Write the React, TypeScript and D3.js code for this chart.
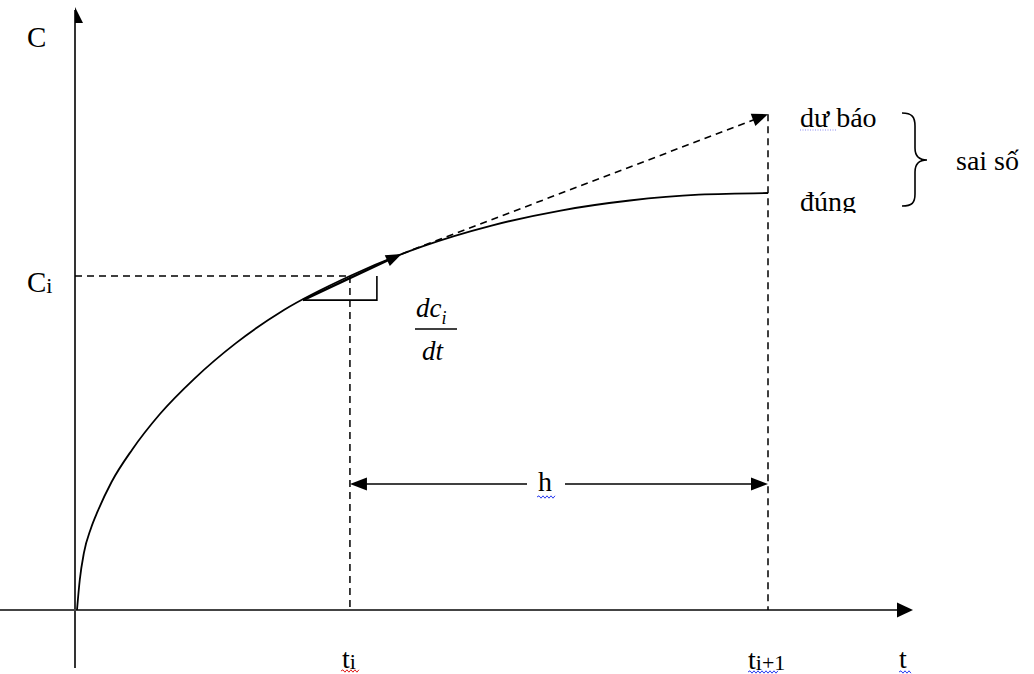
import React from "react";
import * as d3 from "d3";

// Curve C(t) (abstract units)
const curveT = [0, 0.04, 0.1, 0.2, 0.3, 0.5, 0.8, 1.2, 1.7, 2.3, 3.0, 3.95, 5.0, 6.0, 7.0, 8.0, 9.0, 10];
const curveC = [0, 0.72, 1.37, 1.95, 2.37, 3.07, 3.85, 4.7, 5.55, 6.4, 7.2, 8.01, 8.72, 9.22, 9.58, 9.82, 9.96, 10];

const tI = 3.95;        // t_i
const tNext = 10;       // t_{i+1}
const cI = 8.01;        // C_i
const tangentStart = [3.27, 7.43];
const tangentTip = [4.7, 8.54];
const predicted = 11.89; // forecast value at t_{i+1}
const markerT = 4.34;

const labels = {
  yAxis: "C",
  ci: "C",
  ciSub: "i",
  forecast: "dư báo",
  correct: "đúng",
  error: "sai số",
  h: "h",
  t: "t",
};

const W = 1034;
const H = 674;
const FONT = "'Liberation Serif', 'Times New Roman', serif";

function arrowHead(tipX: number, tipY: number, fromX: number, fromY: number, len: number, half: number) {
  const a = Math.atan2(tipY - fromY, tipX - fromX);
  const bx = tipX - len * Math.cos(a);
  const by = tipY - len * Math.sin(a);
  const px = -Math.sin(a) * half;
  const py = Math.cos(a) * half;
  return `M${tipX},${tipY}L${bx + px},${by + py}L${bx - px},${by - py}Z`;
}

function wavy(x1: number, x2: number, y: number) {
  let d = `M${x1},${y}`;
  let up = true;
  for (let x = x1 + 2; x <= x2; x += 2) {
    d += `L${x},${y + (up ? -1.2 : 1.2)}`;
    up = !up;
  }
  return d;
}

export default function App() {
  const x = d3.scaleLinear().domain([0, 10]).range([77, 768]);
  const y = d3.scaleLinear().domain([0, 10]).range([610, 193]);

  const pts: [number, number][] = curveT.map((t, i) => [t, curveC[i]]);
  const line = d3
    .line<[number, number]>()
    .x((d) => x(d[0]))
    .y((d) => y(d[1]))
    .curve(d3.curveMonotoneX);

  const axisX = x(0) - 2;
  const axisY = y(0);
  const dash = "7,5";

  const xi = x(tI);
  const xn = x(tNext);
  const yi = y(cI);
  const yp = y(predicted);
  const hy = 484;

  const tsx = x(tangentStart[0]);
  const tsy = y(tangentStart[1]);
  const ttx = x(tangentTip[0]);
  const tty = y(tangentTip[1]);
  const mx = x(markerT);

  return (
    <svg
      width={W}
      height={H}
      viewBox={`0 0 ${W} ${H}`}
      style={{ position: "absolute", left: 0, top: 0, background: "#fff" }}
    >
      <defs>
        <clipPath id="clipDung">
          <rect x={780} y={180} width={120} height={33} />
        </clipPath>
      </defs>

      {/* axes */}
      <line x1={axisX} y1={668} x2={axisX} y2={10} stroke="#000" strokeWidth={1.6} />
      <path d={`M${axisX},7L${axisX + 8},23L${axisX},23Z`} fill="#000" />
      <line x1={0} y1={axisY} x2={900} y2={axisY} stroke="#444" strokeWidth={2} />
      <path d={arrowHead(913, axisY, 0, axisY, 16, 7.5)} fill="#000" />

      {/* dashed guides */}
      <line x1={axisX} y1={yi} x2={xi} y2={yi} stroke="#000" strokeWidth={1.5} strokeDasharray={dash} />
      <line x1={xi} y1={yi} x2={xi} y2={axisY} stroke="#000" strokeWidth={1.5} strokeDasharray={dash} />
      <line x1={xn} y1={yp} x2={xn} y2={axisY} stroke="#000" strokeWidth={1.5} strokeDasharray={dash} />

      {/* curve */}
      <path d={line(pts) || ""} fill="none" stroke="#000" strokeWidth={1.8} />

      {/* tangent */}
      <line x1={tsx} y1={tsy} x2={ttx - 10} y2={tty + 4.6} stroke="#000" strokeWidth={2.4} />
      <path d={arrowHead(ttx, tty, tsx, tsy, 16, 6)} fill="#000" />
      <line x1={ttx} y1={tty} x2={xn - 10} y2={yp + 4} stroke="#000" strokeWidth={1.6} strokeDasharray={dash} />
      <path d={arrowHead(xn, yp, ttx, tty, 16, 6.5)} fill="#000" />

      {/* right-angle marker */}
      <path d={`M${tsx},${tsy}L${mx},${tsy}L${mx},${yi}`} fill="none" stroke="#000" strokeWidth={1.6} />

      {/* h arrow */}
      <line x1={xi + 10} y1={hy} x2={527} y2={hy} stroke="#000" strokeWidth={1.6} />
      <line x1={565} y1={hy} x2={xn - 10} y2={hy} stroke="#000" strokeWidth={1.6} />
      <path d={arrowHead(xi, hy, xn, hy, 17, 6.5)} fill="#000" />
      <path d={arrowHead(xn, hy, xi, hy, 17, 6.5)} fill="#000" />
      <text x={545} y={491} fontFamily={FONT} fontSize={28} textAnchor="middle">{labels.h}</text>
      <path d={wavy(537, 555, 497)} stroke="#2a3cf0" strokeWidth={1} fill="none" />

      {/* axis labels */}
      <text x={27} y={47} fontFamily={FONT} fontSize={29}>{labels.yAxis}</text>
      <text x={27} y={292} fontFamily={FONT} fontSize={29}>
        {labels.ci}
        <tspan fontSize={22} dy={1}>{labels.ciSub}</tspan>
      </text>

      {/* derivative */}
      <text x={416} y={317} fontFamily={FONT} fontSize={27} fontStyle="italic">
        dc<tspan fontSize={18} dy={7}>i</tspan>
      </text>
      <line x1={415} y1={329} x2={457} y2={329} stroke="#000" strokeWidth={1.5} />
      <text x={422} y={360} fontFamily={FONT} fontSize={27} fontStyle="italic">dt</text>

      {/* right labels */}
      <text x={800} y={127} fontFamily={FONT} fontSize={28}>{labels.forecast}</text>
      <path d="M800,130 L836,130" stroke="#8a8af0" strokeWidth={1} strokeDasharray="1,1.5" />
      <g clipPath="url(#clipDung)">
        <text x={800} y={211} fontFamily={FONT} fontSize={28}>{labels.correct}</text>
      </g>
      <path
        d="M902,113 C912,113 915,117 915,126 L915,148 C915,156 919,160 927,160 C919,160 915,164 915,172 L915,194 C915,203 912,206 902,206"
        fill="none"
        stroke="#000"
        strokeWidth={1.6}
      />
      <text x={956} y={170} fontFamily={FONT} fontSize={28}>{labels.error}</text>

      {/* bottom tick labels */}
      <text x={xi - 8} y={668} fontFamily={FONT} fontSize={28}>
        {labels.t}
        <tspan fontSize={22} dy={1}>i</tspan>
      </text>
      <path d={wavy(xi - 9, xi + 10, 671)} stroke="#e0201e" strokeWidth={1} fill="none" />
      <text x={xn - 20} y={669} fontFamily={FONT} fontSize={28}>
        {labels.t}
        <tspan fontSize={22} dy={1}>i+1</tspan>
      </text>
      <path d={wavy(xn - 20, xn + 10, 672)} stroke="#2a3cf0" strokeWidth={1} fill="none" />
      <text x={899} y={668} fontFamily={FONT} fontSize={28}>{labels.t}</text>
      <path d={wavy(899, 911, 672)} stroke="#2a3cf0" strokeWidth={1} fill="none" />
    </svg>
  );
}
